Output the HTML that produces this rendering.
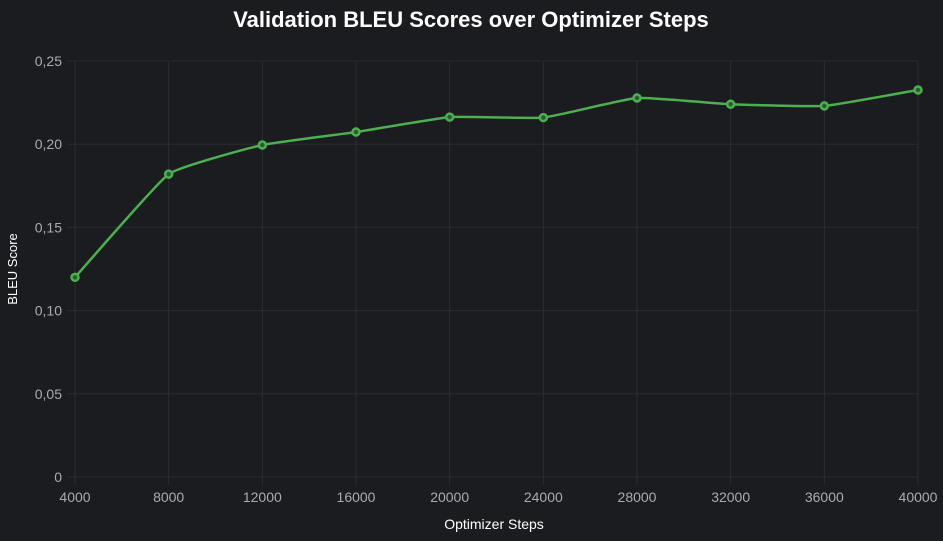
<!DOCTYPE html>
<html><head><meta charset="utf-8"><style>
body{margin:0;background:#1b1c1f;}
svg{display:block;font-family:"Liberation Sans",Arial,sans-serif;}
</style></head><body>
<svg id="chart" width="943" height="541">
<rect width="943" height="541" fill="#1b1c1f"/>
<text x="471" y="27" text-anchor="middle" fill="#ffffff" font-size="22" font-weight="bold">Validation BLEU Scores over Optimizer Steps</text>
<g id="grid"></g><g id="ticks"></g><g id="series"></g>
<text x="494" y="529" text-anchor="middle" fill="#ffffff" font-size="14">Optimizer Steps</text>
<text transform="translate(17,269) rotate(-90)" text-anchor="middle" fill="#ffffff" font-size="13">BLEU Score</text>
</svg>
<script>
const steps=[4000,8000,12000,16000,20000,24000,28000,32000,36000,40000];
const bleu=[0.120,0.182,0.1995,0.2073,0.2163,0.216,0.2278,0.224,0.223,0.2326];
const yTicks=[0,0.05,0.10,0.15,0.20,0.25];
const yTickLabels=["0","0,05","0,10","0,15","0,20","0,25"];
const NS="http://www.w3.org/2000/svg";
const x0=75,x1=918,yb=477,yt=61;
const xs=v=>x0+(v-4000)/36000*(x1-x0);
const ys=v=>yb-v/0.25*(yb-yt);
function mk(t,a,p){const e=document.createElementNS(NS,t);for(const k in a)e.setAttribute(k,a[k]);p.appendChild(e);return e;}
const g=document.getElementById('grid'),tk=document.getElementById('ticks'),s=document.getElementById('series');
yTicks.forEach((v,i)=>{
 const l=mk('line',{x1:x0-8,x2:x1,y1:ys(v),y2:ys(v),stroke:'#2c2d31','stroke-width':1},g);
 
 
 const t=mk('text',{x:x0-13,y:ys(v)+5,'text-anchor':'end',fill:'#a9abb0','font-size':14},tk);
 t.textContent=yTickLabels[i];
 
 
});
steps.forEach(v=>{
 const l=mk('line',{x1:xs(v),x2:xs(v),y1:yt,y2:yb+8,stroke:'#2c2d31','stroke-width':1},g);
 
 
 const t=mk('text',{x:xs(v),y:yb+25,'text-anchor':'middle',fill:'#a9abb0','font-size':14},tk);
 t.textContent=String(v);
 
 
});
const P=steps.map((v,i)=>[xs(v),ys(bleu[i])]);
let d='M'+P[0][0]+','+P[0][1];const k=0.06;
for(let i=0;i<P.length-1;i++){
 const p0=P[i-1]||P[i],p1=P[i],p2=P[i+1],p3=P[i+2]||P[i+1];
 const c1=[p1[0]+(p2[0]-p0[0])*k,p1[1]+(p2[1]-p0[1])*k];
 const c2=[p2[0]-(p3[0]-p1[0])*k,p2[1]-(p3[1]-p1[1])*k];
 d+=` C${c1[0]},${c1[1]} ${c2[0]},${c2[1]} ${p2[0]},${p2[1]}`;
}
const path=mk('path',{d:d,fill:'none',stroke:'#4caf50','stroke-width':2.5},s);


P.forEach(p=>{
 const c=mk('circle',{cx:p[0],cy:p[1],r:3.5,fill:'#2e5a31',stroke:'#4caf50','stroke-width':2.5},s);
 
 
});
</script>
</body></html>
